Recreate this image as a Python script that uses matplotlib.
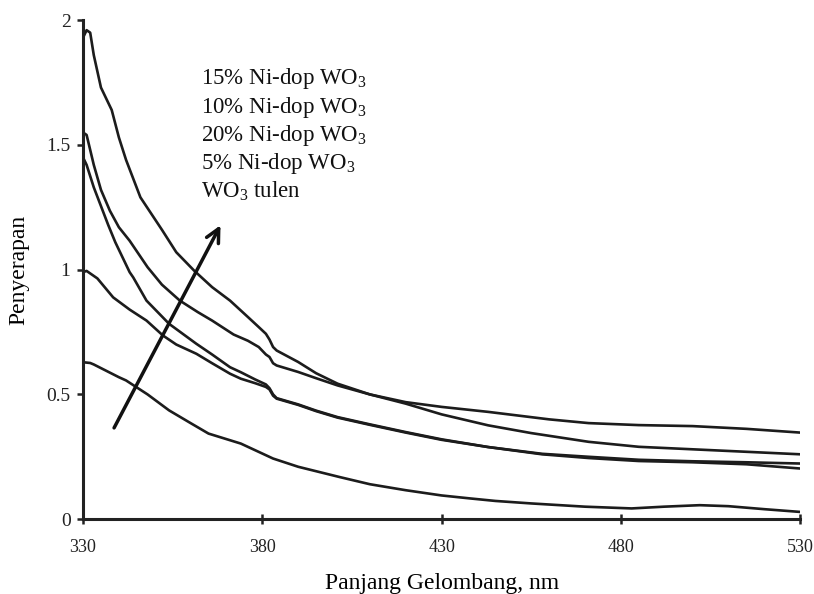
import matplotlib
matplotlib.use("Agg")
import matplotlib.pyplot as plt

plt.rcParams['font.family'] = ['Liberation Serif', 'DejaVu Serif']
plt.rcParams['mathtext.fontset'] = 'custom'
plt.rcParams['mathtext.rm'] = 'Liberation Serif'
plt.rcParams['mathtext.it'] = 'Liberation Serif'

# ---- data ----
x_15 = [330, 331, 332, 333, 335, 338, 340, 342, 346, 352, 356, 361, 366, 371, 376, 379, 381, 382, 383, 384,
        390, 395, 401, 410, 420, 430, 443, 455, 471, 485, 500, 515, 530]
y_15 = [1.93, 1.96, 1.95, 1.86, 1.73, 1.64, 1.53, 1.44, 1.29, 1.16, 1.07, 0.996, 0.93, 0.876, 0.81, 0.77, 0.743, 0.72, 0.69, 0.676,
        0.63, 0.585, 0.543, 0.50, 0.463, 0.42, 0.376, 0.345, 0.31, 0.29, 0.28, 0.27, 0.26]

x_10 = [330, 331, 333, 335, 337.5, 340, 343, 348, 352, 357, 362, 366, 372, 376, 379, 381, 382, 383, 384,
        390, 395, 401, 410, 420, 430, 443, 460, 471, 485, 500, 515, 530]
y_10 = [1.55, 1.54, 1.42, 1.32, 1.236, 1.17, 1.116, 1.01, 0.94, 0.876, 0.83, 0.796, 0.74, 0.715, 0.69, 0.66, 0.65, 0.625, 0.616,
        0.59, 0.565, 0.536, 0.50, 0.469, 0.45, 0.43, 0.40, 0.385, 0.377, 0.373, 0.362, 0.347]

x_20 = [330, 331, 333, 337, 339, 341, 343, 344, 347.7, 354, 361.6, 366, 371, 374, 378, 381, 382, 383, 384,
        390, 395, 401, 410, 420, 430, 443, 458, 471, 485, 500, 515, 530]
y_20 = [1.45, 1.42, 1.33, 1.18, 1.11, 1.05, 0.99, 0.969, 0.876, 0.783, 0.703, 0.66, 0.609, 0.589, 0.56, 0.54, 0.525, 0.50, 0.485,
        0.46, 0.435, 0.409, 0.38, 0.349, 0.32, 0.289, 0.26, 0.245, 0.233, 0.228, 0.22, 0.203]

x_5 = [330, 331, 334, 338.4, 343, 347.7, 352.3, 356, 361.6, 366, 371, 374, 378, 381, 382, 383, 384,
       390, 395, 401, 410, 420, 430, 443, 458, 471, 485, 500, 515, 530]
y_5 = [0.99, 0.995, 0.965, 0.889, 0.84, 0.796, 0.736, 0.70, 0.663, 0.625, 0.583, 0.563, 0.545, 0.53, 0.52, 0.495, 0.483,
       0.458, 0.433, 0.407, 0.378, 0.347, 0.318, 0.289, 0.262, 0.25, 0.238, 0.232, 0.228, 0.223]

x_0 = [330, 332, 333, 340, 342, 348, 354, 360, 365, 374, 383, 390, 401.5, 410, 420, 430, 438, 445, 455, 470,
       483, 492, 502, 510, 520, 530]
y_0 = [0.629, 0.626, 0.62, 0.569, 0.556, 0.50, 0.436, 0.385, 0.343, 0.303, 0.243, 0.21, 0.169, 0.14, 0.116, 0.095, 0.083,
       0.073, 0.063, 0.05, 0.043, 0.05, 0.056, 0.052, 0.04, 0.029]

labels = ['15% Ni-dop WO$_3$', '10% Ni-dop WO$_3$', '20% Ni-dop WO$_3$', '5% Ni-dop WO$_3$', 'WO$_3$ tulen']
x_ticks = [330, 380, 430, 480, 530]
y_ticks = [0, 0.5, 1, 1.5, 2]
y_ticklabels = ['0', '0.5', '1', '1.5', '2']

# ---- figure ----
fig = plt.figure(figsize=(8.14, 5.94), dpi=100)
ax = fig.add_axes([0.102, 0.126, 0.881, 0.840])

lc = '#1c1c1c'
for xs, ys in [(x_15, y_15), (x_10, y_10), (x_20, y_20), (x_5, y_5), (x_0, y_0)]:
    ax.plot(xs, ys, color=lc, lw=1.9, solid_joinstyle='round')

ax.set_xlim(330, 530)
ax.set_ylim(0, 2)
ax.set_xticks(x_ticks)
ax.set_yticks(y_ticks)
ax.set_yticklabels(y_ticklabels)

for s in ['top', 'right']:
    ax.spines[s].set_visible(False)
for s in ['left', 'bottom']:
    ax.spines[s].set_linewidth(2.2)
    ax.spines[s].set_color('#222222')

ax.tick_params(axis='x', direction='inout', length=7, width=1.8, labelsize=13, pad=11, colors='#222222')
ax.tick_params(axis='y', direction='out', length=4, width=1.8, labelsize=14, pad=5, colors='#222222')

ax.set_xlabel('Panjang Gelombang, nm', fontsize=17, labelpad=12)
ax.set_ylabel('Penyerapan', fontsize=17, labelpad=12)

# legend-like text block
base_y = [1.743, 1.629, 1.516, 1.402, 1.288]
for lab, yy in zip(labels, base_y):
    ax.text(362.8, yy, lab, fontsize=16.5, va='baseline', ha='left', color='#111111')

# arrow
ax.annotate('', xy=(368.7, 1.188), xytext=(338.3, 0.356),
            arrowprops=dict(arrowstyle='->', lw=2.5, color='#111111', mutation_scale=24))

fig.savefig('out.png', dpi=100)
